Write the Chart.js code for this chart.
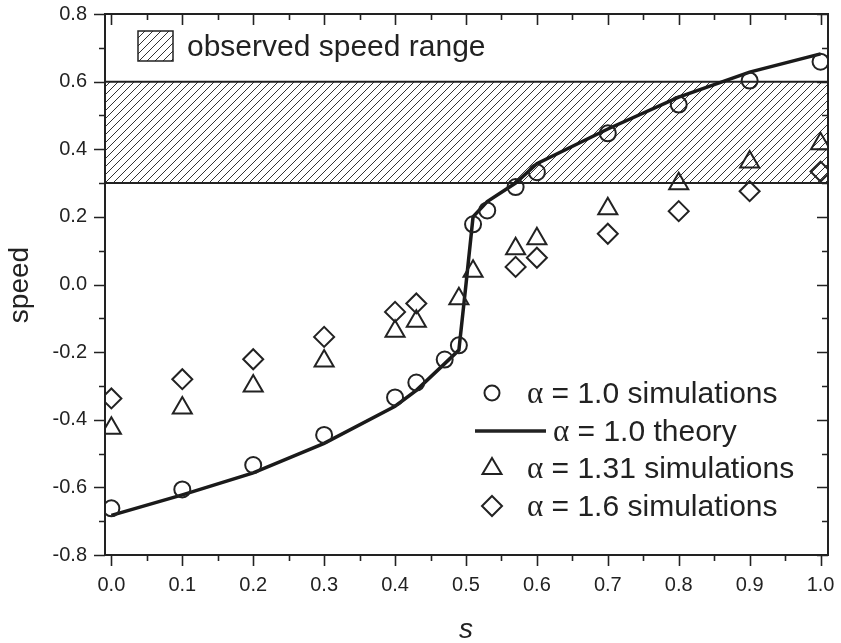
<!DOCTYPE html>
<html>
<head>
<meta charset="utf-8">
<script src="https://cdn.jsdelivr.net/npm/chart.js@4"></script>
<style>
  html, body { margin: 0; padding: 0; background: #fff; }
  #wrap { width: 841px; height: 643px; }
</style>
</head>
<body>
<div id="wrap"><canvas id="myChart" width="841" height="643"></canvas></div>
<script>
// speed vs s, simulations and theory
var sSim1 = [0, 0.1, 0.2, 0.3, 0.4, 0.43, 0.47, 0.49, 0.51, 0.53, 0.57, 0.6, 0.7, 0.8, 0.9, 1.0];
var speedSim1 = [-0.662, -0.606, -0.534, -0.445, -0.334, -0.29, -0.222, -0.18, 0.178, 0.219, 0.288, 0.332, 0.447, 0.532, 0.603, 0.659];

var sTheory = [0, 0.1, 0.2, 0.3, 0.4, 0.43, 0.47, 0.49, 0.5, 0.51, 0.53, 0.57, 0.6, 0.7, 0.8, 0.9, 1.0];
var speedTheory = [-0.683, -0.622, -0.557, -0.47, -0.36, -0.313, -0.234, -0.194, 0.0, 0.2, 0.245, 0.3, 0.357, 0.46, 0.554, 0.628, 0.682];

var sSim2 = [0, 0.1, 0.2, 0.3, 0.4, 0.43, 0.49, 0.51, 0.57, 0.6, 0.7, 0.8, 0.9, 1.0];
var speedSim2 = [-0.425, -0.365, -0.3, -0.226, -0.138, -0.109, -0.042, 0.039, 0.106, 0.135, 0.224, 0.298, 0.362, 0.416];

var sSim3 = [0, 0.1, 0.2, 0.3, 0.4, 0.43, 0.57, 0.6, 0.7, 0.8, 0.9, 1.0];
var speedSim3 = [-0.337, -0.28, -0.221, -0.155, -0.081, -0.056, 0.052, 0.079, 0.15, 0.217, 0.276, 0.334];

// observed speed range (shaded band)
var bandLow = 0.3;
var bandHigh = 0.6;

var xTicks = [0, 0.1, 0.2, 0.3, 0.4, 0.5, 0.6, 0.7, 0.8, 0.9, 1.0];
var yTicks = [-0.8, -0.6, -0.4, -0.2, 0.0, 0.2, 0.4, 0.6, 0.8];
var xMinorTicks = [0.05, 0.15, 0.25, 0.35, 0.45, 0.55, 0.65, 0.75, 0.85, 0.95];
var yMinorTicks = [-0.7, -0.5, -0.3, -0.1, 0.1, 0.3, 0.5, 0.7];

var INK = "#222";
var SANS = "'Liberation Sans', Arial, sans-serif";
var SERIF = "'Liberation Serif', 'Times New Roman', serif";

function pts(xs, ys) {
  return xs.map(function (x, i) { return {x: x, y: ys[i]}; });
}

function makeHatch() {
  var c = document.createElement("canvas");
  c.width = 8; c.height = 8;
  var g = c.getContext("2d");
  g.strokeStyle = "#333";
  g.lineWidth = 1;
  g.beginPath();
  g.moveTo(0, 8); g.lineTo(8, 0);
  g.moveTo(-2, 2); g.lineTo(2, -2);
  g.moveTo(6, 10); g.lineTo(10, 6);
  g.stroke();
  return g.createPattern(c, "repeat");
}
var hatch = makeHatch();

var xMin = -0.009, xMax = 1.0105;

function noPad(s) {
  s.paddingLeft = 0; s.paddingRight = 0; s.paddingTop = 0; s.paddingBottom = 0;
}

// axes frame, ticks, titles and legends
var decor = {
  id: "decor",
  afterDatasetsDraw: function (chart) {
    var ctx = chart.ctx, a = chart.chartArea;
    var xs = chart.scales.x, ys = chart.scales.y;
    ctx.save();
    ctx.strokeStyle = INK;
    ctx.lineWidth = 2;
    ctx.strokeRect(a.left, a.top, a.right - a.left, a.bottom - a.top);

    ctx.lineWidth = 1.6;
    ctx.beginPath();
    function xt(list, len) {
      list.forEach(function (v) {
        var px = Math.round(xs.getPixelForValue(v)) + 0.5;
        ctx.moveTo(px, a.bottom); ctx.lineTo(px, a.bottom + len);
        ctx.moveTo(px, a.top); ctx.lineTo(px, a.top + len);
      });
    }
    function yt(list, len) {
      list.forEach(function (v) {
        var py = Math.round(ys.getPixelForValue(v)) + 0.5;
        ctx.moveTo(a.left, py); ctx.lineTo(a.left - len, py);
        ctx.moveTo(a.right, py); ctx.lineTo(a.right - len, py);
      });
    }
    xt(xTicks, 11); xt(xMinorTicks, 6);
    yt(yTicks, 11); yt(yMinorTicks, 6);
    ctx.stroke();

    // axis titles
    ctx.fillStyle = INK;
    ctx.textAlign = "center";
    ctx.textBaseline = "middle";
    ctx.font = "italic 28px " + SANS;
    ctx.fillText("s", xs.getPixelForValue(0.5), 630);
    ctx.save();
    ctx.translate(20, 285);
    ctx.rotate(-Math.PI / 2);
    ctx.font = "28px " + SANS;
    ctx.fillText("speed", 0, 0);
    ctx.restore();

    // top-left legend: hatched box
    ctx.fillStyle = hatch;
    ctx.fillRect(138, 31, 35, 30);
    ctx.lineWidth = 1.5;
    ctx.strokeStyle = INK;
    ctx.strokeRect(138, 31, 35, 30);
    ctx.fillStyle = INK;
    ctx.textAlign = "left";
    ctx.textBaseline = "alphabetic";
    ctx.font = "30px " + SANS;
    ctx.fillText("observed speed range", 187, 56);

    // lower-right legend
    var rows = [
      {kind: "circle", text: " = 1.0 simulations", y: 393, tx: 527},
      {kind: "line", text: " = 1.0 theory", y: 431, tx: 553},
      {kind: "triangle", text: " = 1.31 simulations", y: 468, tx: 527},
      {kind: "diamond", text: " = 1.6 simulations", y: 506, tx: 527}
    ];
    var mx = 492;
    rows.forEach(function (r) {
      ctx.strokeStyle = INK;
      ctx.lineWidth = 2;
      ctx.beginPath();
      if (r.kind === "circle") {
        ctx.arc(mx, r.y, 7.5, 0, Math.PI * 2);
      } else if (r.kind === "line") {
        ctx.lineWidth = 3.5;
        ctx.moveTo(475, r.y); ctx.lineTo(546, r.y);
      } else if (r.kind === "triangle") {
        ctx.moveTo(mx, r.y - 10);
        ctx.lineTo(mx + 9.5, r.y + 6);
        ctx.lineTo(mx - 9.5, r.y + 6);
        ctx.closePath();
      } else {
        ctx.moveTo(mx, r.y - 10);
        ctx.lineTo(mx + 10, r.y);
        ctx.lineTo(mx, r.y + 10);
        ctx.lineTo(mx - 10, r.y);
        ctx.closePath();
      }
      ctx.stroke();
      ctx.fillStyle = INK;
      ctx.font = "31px " + SERIF;
      ctx.fillText("\u03b1", r.tx, r.y + 10);
      var w = ctx.measureText("\u03b1").width;
      ctx.font = "30px " + SANS;
      ctx.fillText(r.text, r.tx + w, r.y + 10);
    });
    ctx.restore();
  }
};

new Chart("myChart", {
  type: "scatter",
  data: {
    datasets: [{
      label: "observed speed range",
      type: "line",
      data: pts([xMin, xMax], [bandHigh, bandHigh]),
      borderColor: INK,
      borderWidth: 2,
      pointRadius: 0,
      backgroundColor: hatch,
      fill: "+1",
      order: 10
    }, {
      label: "band low",
      type: "line",
      data: pts([xMin, xMax], [bandLow, bandLow]),
      borderColor: INK,
      borderWidth: 2,
      pointRadius: 0,
      fill: false,
      order: 9
    }, {
      label: "\u03b1 = 1.0 theory",
      type: "line",
      data: pts(sTheory, speedTheory),
      borderColor: "#1a1a1a",
      borderWidth: 3.5,
      pointRadius: 0,
      tension: 0,
      fill: false,
      order: 2
    }, {
      label: "\u03b1 = 1.0 simulations",
      data: pts(sSim1, speedSim1),
      pointStyle: "circle",
      pointRadius: 8,
      pointBorderWidth: 2,
      pointBorderColor: INK,
      pointBackgroundColor: "rgba(0,0,0,0)",
      order: 1
    }, {
      label: "\u03b1 = 1.31 simulations",
      data: pts(sSim2, speedSim2),
      pointStyle: "triangle",
      pointRadius: 11,
      pointBorderWidth: 2,
      pointBorderColor: INK,
      pointBackgroundColor: "rgba(0,0,0,0)",
      order: 1
    }, {
      label: "\u03b1 = 1.6 simulations",
      data: pts(sSim3, speedSim3),
      pointStyle: "rectRot",
      pointRadius: 10,
      pointBorderWidth: 2,
      pointBorderColor: INK,
      pointBackgroundColor: "rgba(0,0,0,0)",
      order: 1
    }]
  },
  options: {
    responsive: false,
    animation: false,
    layout: {padding: {top: 14, right: 9, left: 0, bottom: 0}},
    plugins: {
      legend: {display: false},
      tooltip: {enabled: false}
    },
    scales: {
      x: {
        type: "linear",
        min: xMin,
        max: xMax,
        afterBuildTicks: function (s) { s.ticks = xTicks.map(function (v) { return {value: v}; }); },
        afterFit: function (s) { s.height = 88; noPad(s); },
        grid: {display: false, drawTicks: false},
        border: {display: false},
        ticks: {
          padding: 18,
          color: INK,
          font: {family: SANS, size: 20},
          maxRotation: 0,
          callback: function (v) { return v.toFixed(1); }
        }
      },
      y: {
        type: "linear",
        min: -0.8,
        max: 0.8,
        afterBuildTicks: function (s) { s.ticks = yTicks.map(function (v) { return {value: v}; }); },
        afterFit: function (s) { s.width = 105; noPad(s); },
        grid: {display: false, drawTicks: false},
        border: {display: false},
        ticks: {
          padding: 18,
          color: INK,
          font: {family: SANS, size: 20},
          callback: function (v) { return v.toFixed(1); }
        }
      }
    }
  },
  plugins: [decor]
});
</script>
</body>
</html>
